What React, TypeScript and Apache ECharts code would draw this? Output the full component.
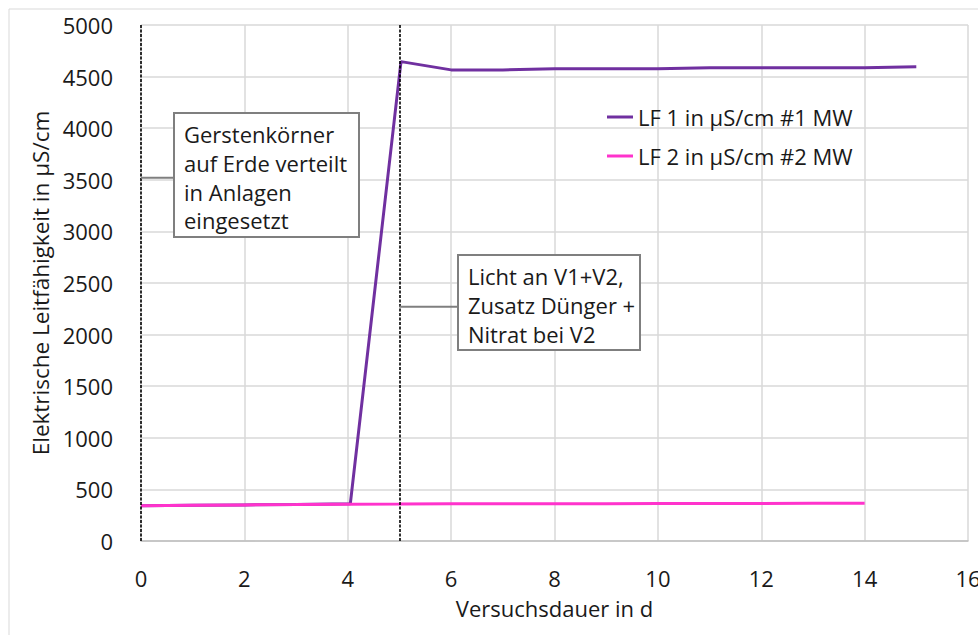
import React, { useEffect, useRef } from "react";
import * as echarts from "echarts";

// Measurement days and conductivity readings (µS/cm)
const daysLF1 = [0, 1, 2, 3, 4.05, 5.03, 6, 7, 8, 9, 10, 11, 12, 13, 14, 15];
const valuesLF1 = [342, 346, 350, 353, 362, 4645, 4565, 4565, 4575, 4575, 4575, 4585, 4585, 4585, 4585, 4595];
const daysLF2 = [0, 1, 2, 3, 4, 5, 6, 7, 8, 9, 10, 11, 12, 13, 14];
const valuesLF2 = [342, 346, 350, 353, 357, 358, 360, 361, 362, 362, 363, 364, 364, 365, 365];

const seriesNames = ["LF 1 in µS/cm #1 MW", "LF 2 in µS/cm #2 MW"];
const eventDays = [0, 5];
const noteSeeds = ["Gerstenkörner", "auf Erde verteilt", "in Anlagen", "eingesetzt"];
const noteLight = ["Licht an V1+V2,", "Zusatz Dünger +", "Nitrat bei V2"];
// Points on the event lines where the callout leaders start
const noteAnchors: [number, number][] = [
  [0, 3520],
  [5, 2270],
];

const FONT = "'Open Sans', sans-serif";
const TEXT = "#1a1a1a";
const BOX = "#7f7f7f";

export default function App() {
  const ref = useRef<HTMLDivElement>(null);

  useEffect(() => {
    if (!ref.current) return;
    const chart = echarts.init(ref.current, undefined, { renderer: "svg" });

    const pair = (xs: number[], ys: number[]) => xs.map((x, i) => [x, ys[i]]);

    chart.setOption({
      animation: false,
      backgroundColor: "#ffffff",
      textStyle: { fontFamily: FONT },
      grid: {
        left: 141,
        right: 10,
        top: 25,
        bottom: 94,
        containLabel: false,
        outerBoundsMode: "none",
      },
      legend: {
        orient: "vertical",
        left: 602,
        top: 100,
        itemWidth: 26,
        itemHeight: 14,
        itemGap: 15,
        icon: "path://M0,6 L26,6 L26,9 L0,9 Z",
        textStyle: { fontFamily: FONT, fontSize: 22, color: TEXT, lineHeight: 24 },
        data: seriesNames,
      },
      xAxis: {
        type: "value",
        min: 0,
        max: 16,
        interval: 2,
        name: "Versuchsdauer in d",
        nameLocation: "middle",
        nameGap: 56,
        nameTextStyle: { fontFamily: FONT, fontSize: 22, color: TEXT },
        axisLine: { show: true, lineStyle: { color: "#bfbfbf", width: 1.5 } },
        axisTick: { show: false },
        axisLabel: { fontFamily: FONT, fontSize: 22, color: TEXT, margin: 26 },
        splitLine: { show: true, lineStyle: { color: "#d9d9d9", width: 1.5 } },
      },
      yAxis: {
        type: "value",
        min: 0,
        max: 5000,
        interval: 500,
        name: "Elektrische Leitfähigkeit in µS/cm",
        nameLocation: "middle",
        nameGap: 88,
        nameTextStyle: { fontFamily: FONT, fontSize: 22.5, color: TEXT },
        axisLine: { show: false },
        axisTick: { show: false },
        axisLabel: {
          fontFamily: FONT,
          fontSize: 22,
          color: TEXT,
          margin: 28,
          formatter: (v: number) => String(v),
        },
        splitLine: { show: true, lineStyle: { color: "#d9d9d9", width: 1.5 } },
      },
      series: [
        {
          name: seriesNames[0],
          type: "line",
          data: pair(daysLF1, valuesLF1),
          symbol: "none",
          lineStyle: { color: "#7030a0", width: 3 },
          itemStyle: { color: "#7030a0" },
          markLine: {
            silent: true,
            symbol: "none",
            label: { show: false },
            lineStyle: { color: "#000000", width: 1.6, type: [3, 1.5] },
            data: eventDays.map((d) => ({ xAxis: d })),
          },
          z: 2,
        },
        {
          name: seriesNames[1],
          type: "line",
          data: pair(daysLF2, valuesLF2),
          symbol: "none",
          lineStyle: { color: "#ff33cc", width: 3 },
          itemStyle: { color: "#ff33cc" },
          z: 3,
        },
      ],
    });

    // Callout boxes with leader lines hooked onto the event lines
    const a0 = chart.convertToPixel({ gridIndex: 0 }, noteAnchors[0]) as number[];
    const a1 = chart.convertToPixel({ gridIndex: 0 }, noteAnchors[1]) as number[];

    const note = (x: number, y: number, w: number, h: number, lines: string[], anchor: number[]) => [
      {
        type: "line",
        shape: { x1: anchor[0], y1: anchor[1], x2: x, y2: anchor[1] },
        style: { stroke: BOX, lineWidth: 2 },
        z: 10,
      },
      {
        type: "rect",
        shape: { x, y, width: w, height: h },
        style: { fill: "#ffffff", stroke: BOX, lineWidth: 2 },
        z: 10,
      },
      {
        type: "text",
        x: x + 10,
        y: y + 7,
        style: {
          text: lines.join("\n"),
          font: `22px ${FONT}`,
          fill: TEXT,
          lineHeight: 28.6,
        },
        z: 11,
      },
    ];

    chart.setOption({
      graphic: [
        {
          type: "rect",
          shape: { x: 9, y: 9, width: 980, height: 640 },
          style: { fill: "none", stroke: "#d9d9d9", lineWidth: 1 },
          silent: true,
        },
        ...note(174, 113, 185, 124, noteSeeds, a0),
        ...note(458, 255, 182, 95, noteLight, a1),
      ],
    });

    return () => chart.dispose();
  }, []);

  return (
    <div
      ref={ref}
      style={{ position: "fixed", left: 0, top: 0, width: 978, height: 635, background: "#fff" }}
    />
  );
}
